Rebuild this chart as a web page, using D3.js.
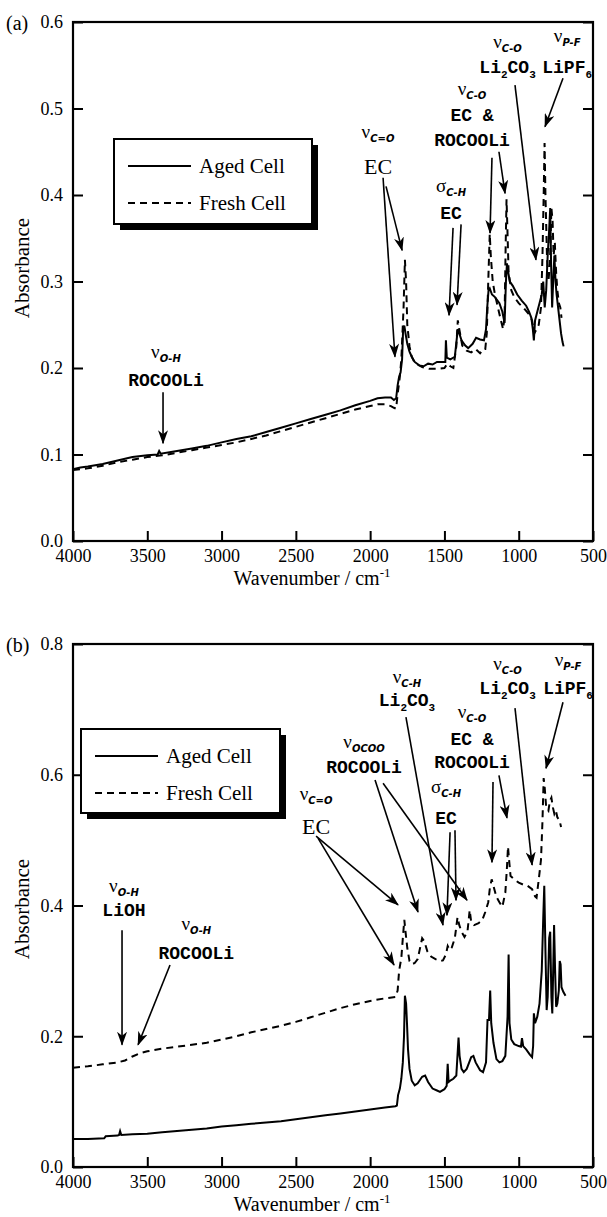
<!DOCTYPE html>
<html><head><meta charset="utf-8">
<script src="https://cdn.jsdelivr.net/npm/d3@7"></script>
<style>body{margin:0;background:#fff}svg{display:block}</style>
</head><body>
<svg id="c" width="607" height="1217"></svg>
<script>
// ---------------- DATA ----------------
const xTicks = [4000,3500,3000,2500,2000,1500,1000,500];
const yTicksA = [0,0.1,0.2,0.3,0.4,0.5,0.6];
const yTicksB = [0,0.2,0.4,0.6,0.8];
const seriesNames = ["Aged Cell","Fresh Cell"];

// Panel (a): [wavenumber, absorbance]
const agedA = [[4000,0.083],[3950,0.085],[3900,0.086],[3800,0.089],[3700,0.093],[3600,0.097],[3500,0.099],[3430,0.100],[3420,0.104],[3410,0.101],[3300,0.104],[3200,0.107],[3100,0.110],[3000,0.114],[2900,0.118],[2800,0.121],[2700,0.126],[2600,0.131],[2500,0.136],[2400,0.141],[2300,0.146],[2200,0.151],[2100,0.157],[2000,0.162],[1950,0.165],[1900,0.166],[1860,0.166],[1840,0.163],[1825,0.165],[1815,0.18],[1805,0.19],[1795,0.195],[1785,0.21],[1778,0.245],[1770,0.249],[1762,0.24],[1750,0.228],[1735,0.219],[1720,0.213],[1700,0.207],[1670,0.203],[1640,0.202],[1610,0.205],[1580,0.204],[1550,0.207],[1500,0.207],[1494,0.207],[1490,0.232],[1484,0.212],[1460,0.21],[1430,0.213],[1410,0.245],[1400,0.24],[1385,0.232],[1360,0.226],[1340,0.223],[1310,0.228],[1287,0.235],[1260,0.233],[1234,0.232],[1220,0.245],[1212,0.27],[1203,0.29],[1195,0.292],[1180,0.285],[1160,0.282],[1130,0.275],[1110,0.265],[1095,0.252],[1086,0.30],[1079,0.321],[1070,0.31],[1060,0.30],[1040,0.295],[1010,0.285],[980,0.278],[950,0.272],[930,0.265],[915,0.258],[905,0.245],[898,0.232],[890,0.255],[875,0.265],[860,0.275],[845,0.285],[835,0.30],[825,0.27],[815,0.29],[805,0.33],[795,0.36],[788,0.385],[782,0.32],[775,0.27],[768,0.30],[760,0.33],[752,0.30],[745,0.285],[735,0.27],[725,0.255],[715,0.24],[705,0.23],[698,0.225]];
const freshA = [[4000,0.082],[3900,0.084],[3800,0.087],[3700,0.091],[3600,0.094],[3500,0.097],[3400,0.099],[3300,0.102],[3200,0.105],[3100,0.108],[3000,0.111],[2900,0.114],[2800,0.118],[2700,0.122],[2600,0.127],[2500,0.132],[2400,0.137],[2300,0.142],[2200,0.147],[2100,0.152],[2000,0.156],[1950,0.158],[1900,0.158],[1860,0.156],[1840,0.154],[1825,0.153],[1815,0.17],[1800,0.19],[1790,0.21],[1775,0.27],[1766,0.325],[1758,0.30],[1750,0.25],[1735,0.225],[1720,0.213],[1700,0.206],[1650,0.201],[1600,0.199],[1550,0.199],[1500,0.200],[1480,0.205],[1460,0.202],[1440,0.200],[1420,0.225],[1410,0.255],[1400,0.245],[1380,0.226],[1350,0.220],[1320,0.218],[1290,0.222],[1260,0.217],[1240,0.222],[1225,0.222],[1215,0.24],[1205,0.30],[1195,0.355],[1188,0.33],[1175,0.30],[1160,0.285],[1140,0.27],[1120,0.255],[1105,0.245],[1095,0.26],[1088,0.34],[1082,0.395],[1076,0.36],[1068,0.31],[1050,0.29],[1030,0.282],[1000,0.275],[960,0.268],[930,0.262],[910,0.255],[895,0.24],[880,0.245],[865,0.25],[850,0.27],[840,0.33],[832,0.40],[826,0.46],[820,0.40],[810,0.33],[800,0.30],[790,0.32],[780,0.385],[772,0.37],[765,0.33],[757,0.345],[748,0.31],[740,0.29],[730,0.275],[720,0.27],[712,0.258]];

// Panel (b)
const agedB = [[4000,0.043],[3900,0.043],[3790,0.044],[3780,0.047],[3700,0.048],[3690,0.049],[3683,0.055],[3675,0.049],[3600,0.050],[3500,0.051],[3400,0.053],[3300,0.055],[3200,0.057],[3100,0.059],[3000,0.062],[2900,0.064],[2800,0.066],[2700,0.068],[2600,0.070],[2500,0.073],[2400,0.076],[2300,0.079],[2200,0.082],[2100,0.085],[2000,0.088],[1900,0.091],[1830,0.093],[1820,0.094],[1812,0.11],[1800,0.12],[1790,0.135],[1780,0.16],[1772,0.2],[1766,0.262],[1758,0.25],[1752,0.22],[1745,0.18],[1735,0.15],[1720,0.132],[1700,0.125],[1680,0.128],[1650,0.138],[1630,0.14],[1610,0.13],[1580,0.12],[1550,0.117],[1530,0.115],[1500,0.119],[1485,0.124],[1478,0.158],[1472,0.13],[1455,0.133],[1440,0.135],[1420,0.14],[1405,0.198],[1398,0.17],[1385,0.15],[1370,0.145],[1350,0.15],[1320,0.168],[1305,0.17],[1290,0.16],[1260,0.148],[1240,0.145],[1220,0.16],[1210,0.225],[1200,0.225],[1192,0.27],[1185,0.22],[1170,0.19],[1150,0.165],[1130,0.16],[1110,0.162],[1090,0.17],[1075,0.23],[1068,0.325],[1062,0.22],[1050,0.195],[1030,0.188],[1000,0.185],[985,0.184],[978,0.197],[970,0.185],[950,0.18],[925,0.172],[910,0.168],[903,0.185],[898,0.235],[890,0.22],[875,0.23],[860,0.25],[845,0.30],[835,0.38],[828,0.43],[820,0.33],[812,0.24],[805,0.26],[795,0.35],[788,0.36],[780,0.26],[774,0.235],[768,0.30],[762,0.37],[755,0.30],[748,0.245],[740,0.25],[730,0.27],[724,0.315],[718,0.31],[712,0.275],[700,0.268],[685,0.262]];
const freshB = [[4000,0.152],[3950,0.153],[3900,0.154],[3800,0.157],[3700,0.160],[3650,0.163],[3600,0.169],[3550,0.174],[3500,0.177],[3400,0.181],[3300,0.184],[3200,0.187],[3100,0.190],[3000,0.195],[2900,0.200],[2800,0.206],[2700,0.211],[2600,0.216],[2500,0.222],[2400,0.229],[2300,0.236],[2200,0.243],[2100,0.249],[2000,0.254],[1900,0.258],[1830,0.26],[1815,0.27],[1805,0.30],[1790,0.32],[1780,0.35],[1770,0.378],[1762,0.36],[1750,0.335],[1735,0.315],[1720,0.31],[1700,0.312],[1680,0.318],[1650,0.35],[1635,0.345],[1615,0.33],[1590,0.322],[1560,0.318],[1530,0.315],[1510,0.316],[1490,0.325],[1478,0.338],[1465,0.332],[1450,0.336],[1430,0.35],[1412,0.382],[1400,0.37],[1385,0.36],[1365,0.352],[1345,0.36],[1330,0.393],[1320,0.375],[1300,0.37],[1270,0.373],[1245,0.378],[1225,0.39],[1205,0.405],[1195,0.425],[1182,0.44],[1170,0.43],[1150,0.413],[1130,0.405],[1110,0.398],[1090,0.42],[1080,0.455],[1072,0.49],[1065,0.47],[1055,0.445],[1030,0.44],[1000,0.435],[970,0.432],[940,0.43],[910,0.425],[890,0.414],[880,0.412],[865,0.44],[850,0.47],[840,0.53],[832,0.595],[825,0.58],[815,0.55],[800,0.545],[790,0.56],[780,0.565],[770,0.55],[760,0.54],[750,0.545],[740,0.535],[725,0.53],[715,0.52]];

// Annotations: label lines at (wavenumber, absorbance); arrows [w1,a1,w2,a2]
// kinds: g = greek symbol + subscript, m = bold mono (with _x subscripts), s = serif
const annotA = [
  {w:3374, lines:[{a:0.211,k:"g",sym:"ν",sub:"O-H"},{a:0.179,k:"m",t:"ROCOOLi"}], arrows:[[3394,0.172,3394,0.113]]},
  {w:1947, lines:[{a:0.466,k:"g",sym:"ν",sub:"C=O"},{a:0.424,k:"s",t:"EC"}], arrows:[[1913,0.420,1833,0.213],[1893,0.410,1785,0.336]]},
  {w:1456, lines:[{a:0.403,k:"g",sym:"σ",sub:"C-H"},{a:0.372,k:"m",t:"EC"}], arrows:[[1442,0.362,1469,0.261],[1388,0.366,1415,0.273]]},
  {w:1314, lines:[{a:0.516,k:"g",sym:"ν",sub:"C-O"},{a:0.486,k:"m",t:"EC &"},{a:0.457,k:"m",t:"ROCOOLi"}], arrows:[[1180,0.443,1193,0.356],[1133,0.450,1092,0.402]]},
  {w:1075, lines:[{a:0.570,k:"g",sym:"ν",sub:"C-O"},{a:0.541,k:"m",t:"Li_2CO_3"}], arrows:[[1025,0.527,884,0.325]]},
  {w:674, lines:[{a:0.577,k:"g",sym:"ν",sub:"P-F"},{a:0.541,k:"m",t:"LiPF_6"}], arrows:[[702,0.535,823,0.479]]}
];
const annotB = [
  {w:3657, lines:[{a:0.420,k:"g",sym:"ν",sub:"O-H"},{a:0.384,k:"m",t:"LiOH"}], arrows:[[3670,0.362,3670,0.187]]},
  {w:3170, lines:[{a:0.362,k:"g",sym:"ν",sub:"O-H"},{a:0.318,k:"m",t:"ROCOOLi"}], arrows:[[3347,0.309,3562,0.187]]},
  {w:2364, lines:[{a:0.561,k:"g",sym:"ν",sub:"C=O"},{a:0.509,k:"s",t:"EC"}], arrows:[[2364,0.506,1812,0.401],[2351,0.503,1839,0.309]]},
  {w:2041, lines:[{a:0.641,k:"g",sym:"ν",sub:"OCOO"},{a:0.602,k:"m",t:"ROCOOLi"}], arrows:[[1967,0.592,1678,0.390],[1913,0.587,1348,0.408]]},
  {w:1752, lines:[{a:0.740,k:"g",sym:"ν",sub:"C-H"},{a:0.705,k:"m",t:"Li_2CO_3"}], arrows:[[1759,0.688,1510,0.370]]},
  {w:1489, lines:[{a:0.572,k:"g",sym:"σ",sub:"C-H"},{a:0.524,k:"m",t:"EC"}], arrows:[[1462,0.512,1483,0.385],[1429,0.515,1422,0.408]]},
  {w:1314, lines:[{a:0.687,k:"g",sym:"ν",sub:"C-O"},{a:0.645,k:"m",t:"EC &"},{a:0.610,k:"m",t:"ROCOOLi"}], arrows:[[1173,0.589,1180,0.466],[1133,0.599,1079,0.534]]},
  {w:1075, lines:[{a:0.760,k:"g",sym:"ν",sub:"C-O"},{a:0.723,k:"m",t:"Li_2CO_3"}], arrows:[[1025,0.702,910,0.462]]},
  {w:668, lines:[{a:0.766,k:"g",sym:"ν",sub:"P-F"},{a:0.723,k:"m",t:"LiPF_6"}], arrows:[[702,0.711,816,0.610]]}
];

// ---------------- LAYOUT ----------------
const svg = d3.select("#c");
const SERIF = "'Liberation Serif','Times New Roman',Times,serif";
const MONO = "'Liberation Mono','DejaVu Sans Mono',monospace";

svg.append("defs").append("marker")
  .attr("id","ah").attr("viewBox","0 0 14 10").attr("refX",13).attr("refY",5)
  .attr("markerWidth",14).attr("markerHeight",10).attr("markerUnits","userSpaceOnUse")
  .attr("orient","auto")
  .append("path").attr("d","M0,0 L14,5 L0,10 L4,5 Z").attr("fill","#000");

const panels = [
  {tag:"(a)", aged:agedA, fresh:freshA, yTicks:yTicksA, yMax:0.6, top:22, bottom:541, annot:annotA,
   legend:{x:114,y:139,w:198,h:85}, ylabY:268},
  {tag:"(b)", aged:agedB, fresh:freshB, yTicks:yTicksB, yMax:0.8, top:644, bottom:1167, annot:annotB,
   legend:{x:81,y:729,w:199,h:84}, ylabY:909}
];
const L = 73, R = 593;

panels.forEach(p => {
  const x = d3.scaleLinear().domain([4000,500]).range([L,R]);
  const y = d3.scaleLinear().domain([0,p.yMax]).range([p.bottom,p.top]);
  const g = svg.append("g");

  const ax = (sel) => { sel.select(".domain").remove(); sel.selectAll(".tick line").attr("stroke","#000").attr("stroke-width",2);
    sel.selectAll("text").attr("font-family",SERIF).attr("font-size",18).attr("fill","#000"); };
  g.append("g").attr("transform",`translate(0,${p.bottom})`)
    .call(d3.axisBottom(x).tickValues(xTicks).tickSize(-10).tickPadding(8).tickFormat(d3.format("d"))).call(ax);
  g.append("g").attr("transform",`translate(${L},0)`)
    .call(d3.axisLeft(y).tickValues(p.yTicks).tickSize(-10).tickPadding(10).tickFormat(d3.format(".1f"))).call(ax);
  g.append("g").attr("transform",`translate(${R},0)`)
    .call(d3.axisRight(y).tickValues(p.yTicks).tickSize(-10).tickFormat("")).call(ax);
  g.append("rect").attr("x",L).attr("y",p.top).attr("width",R-L).attr("height",p.bottom-p.top)
    .attr("fill","none").attr("stroke","#000").attr("stroke-width",2.2);

  // titles
  g.append("text").attr("x",6).attr("y",p.top+8).attr("font-family",SERIF).attr("font-size",20).text(p.tag);
  g.append("text").attr("transform",`translate(29,${p.ylabY}) rotate(-90)`)
    .attr("text-anchor","middle").attr("font-family",SERIF).attr("font-size",21).text("Absorbance");
  const xt = g.append("text").attr("x",312).attr("y",p.bottom+44).attr("text-anchor","middle")
    .attr("font-family",SERIF).attr("font-size",20);
  xt.append("tspan").text("Wavenumber / cm");
  xt.append("tspan").text("-1").attr("font-size",13).attr("dy",-8);

  // curves
  const line = d3.line().x(d=>x(d[0])).y(d=>y(d[1]));
  g.append("path").datum(p.fresh).attr("d",line).attr("fill","none").attr("stroke","#000")
    .attr("stroke-width",2).attr("stroke-dasharray","7,5");
  g.append("path").datum(p.aged).attr("d",line).attr("fill","none").attr("stroke","#000")
    .attr("stroke-width",2);

  // annotations
  p.annot.forEach(an => {
    an.lines.forEach(ln => {
      const t = g.append("text").attr("x",x(an.w)).attr("y",y(ln.a)).attr("text-anchor","middle").attr("fill","#000");
      if (ln.k==="g") {
        t.append("tspan").text(ln.sym).attr("font-family",SERIF).attr("font-size",19);
        t.append("tspan").text(ln.sub).attr("font-family","'DejaVu Sans',sans-serif").attr("font-weight","bold")
          .attr("font-style","italic").attr("font-size",10).attr("dy",4);
      } else if (ln.k==="s") {
        t.attr("font-family",SERIF).attr("font-size",22).text(ln.t);
      } else {
        t.attr("font-family",MONO).attr("font-weight","bold").attr("font-size",18);
        const parts = ln.t.split(/(_.)/).filter(s=>s.length);
        let sub=false;
        parts.forEach(s => {
          if (s[0]==="_") { t.append("tspan").text(s[1]).attr("font-size",11).attr("dy",sub?0:5); sub=true; }
          else { t.append("tspan").text(s).attr("dy",sub?-5:0); sub=false; }
        });
      }
    });
    an.arrows.forEach(a => {
      g.append("line").attr("x1",x(a[0])).attr("y1",y(a[1])).attr("x2",x(a[2])).attr("y2",y(a[3]))
        .attr("stroke","#000").attr("stroke-width",1.6).attr("marker-end","url(#ah)");
    });
  });

  // legend
  const lg = p.legend;
  g.append("rect").attr("x",lg.x+6).attr("y",lg.y+6).attr("width",lg.w).attr("height",lg.h).attr("fill","#000");
  g.append("rect").attr("x",lg.x).attr("y",lg.y).attr("width",lg.w).attr("height",lg.h)
    .attr("fill","#fff").attr("stroke","#000").attr("stroke-width",2);
  seriesNames.forEach((nm,i) => {
    const yy = lg.y + 27 + i*37;
    g.append("line").attr("x1",lg.x+14).attr("x2",lg.x+77).attr("y1",yy).attr("y2",yy)
      .attr("stroke","#000").attr("stroke-width",2).attr("stroke-dasharray", i===1?"7,5":null);
    g.append("text").attr("x",lg.x+85).attr("y",yy+7).attr("font-family",SERIF).attr("font-size",21).text(nm);
  });
});
</script>
</body></html>
